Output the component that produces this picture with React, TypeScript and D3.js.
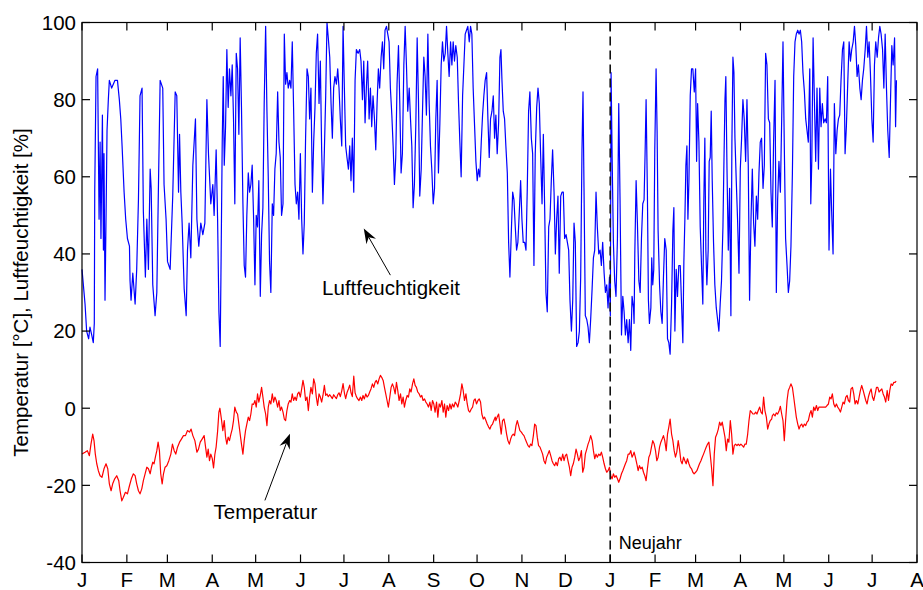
import React from 'react';
import * as d3 from 'd3';

// time axis: Jan 1 of year one to Aug 1 of year two, data given as day offsets
const startDate = new Date(Date.UTC(2005, 0, 1));
const endDate = new Date(Date.UTC(2006, 7, 1));
const newYearDate = new Date(Date.UTC(2006, 0, 1));
const monthLetters = ['J', 'F', 'M', 'A', 'M', 'J', 'J', 'A', 'S', 'O', 'N', 'D'];
const yTicks = [-40, -20, 0, 20, 40, 60, 80, 100];

// Luftfeuchtigkeit [%] as [day, value]
const humidityJanApr: [number, number][] = [
  [0,36],[2.1,27],[3.2,20],[4.6,18],[5.5,21],[6.7,19],[7.8,17],[8.5,22],[8.8,56],[9.7,86],[10.8,88],[11.8,49],[12.5,69],[13.1,44],[14.1,76],[14.8,41],[15.2,66],[15.9,28],[16.6,49],[17.3,72],[18.2,80],[18.9,85],[20.5,83],[22.8,85],[24.5,85],[25.8,80],[26.8,75],[27.7,68],[29.1,56],[30.2,49],[31.4,44],[32.8,42],[33.2,33],[33.9,28],[35.1,35],[36.7,27],[37.8,36],[39,54],[40.1,81],[41.5,83],[42.4,51],[43.8,34],[44.8,49],[45.9,36],[47.1,62],[47.8,57],[48.9,32],[50.5,24],[51.7,30],[52.8,57],[54,85],[55.8,83],[56.7,58],[58.1,49],[59.1,38],[60.9,36],[62.7,55],[64.4,82],[65.5,81],[66.7,56],[67.4,71],[68.3,56],[69.2,48],[70.6,31],[72,24],[72.9,41],[74,48],[75.2,39],[76.6,63],[78.4,75],[79.4,49],[80.7,42],[82.1,48],[83.5,45],[84.9,48],[86.3,80],[87.4,66],[89,53],[90.4,58],[91.3,50],[92.7,67],[93.7,49],[94.6,25],[95.5,16]
];
const humidityAprJul: [number, number][] = [
  [96,34],[96.9,69],[97.6,86],[98.3,63],[99.2,73],[100.1,93],[101,78],[101.9,88],[102.9,81],[103.8,89],[104.7,75],[105.6,53],[106.6,92],[107.5,88],[108.4,71],[109.3,96],[110.2,78],[111.2,53],[112.1,37],[113,34],[113.9,50],[114.9,61],[115.8,56],[116.7,58],[117.6,63],[118.6,49],[119.5,32],[120.4,50],[121.3,47],[122.2,59],[123.2,29],[124.1,45],[125,52],[125.9,79],[126.9,99],[127.8,77],[128.7,60],[129.6,38],[130.5,30],[131.5,53],[132.4,50],[133.3,62],[134.2,66],[135.2,82],[136.1,69],[137,65],[137.9,50],[138.9,53],[139.8,97],[140.7,84],[141.6,87],[142.5,83],[143.5,85],[144.4,83],[145.3,95],[146.2,78],[147.2,58],[148.1,53],[149,56],[149.9,49],[150.9,66],[151.8,49],[152.7,40],[153.6,48],[154.5,70],[155.5,88],[156.4,86],[157.3,75],[158.2,83],[159.2,56],[160.1,69],[161,78],[161.9,92],[162.8,97],[163.8,79],[164.7,90],[165.6,67],[166.5,53],[167.5,67],[168.4,81],[169.3,100],[170.2,96],[171.2,91],[172.1,79],[173,70],[173.9,83],[174.8,86],[175.8,84],[176.7,88],[177.6,83],[178.5,75],[179.5,68],[180.4,99],[181.3,83],[182.2,68],[183.1,65],[184.1,62],[185,68],[185.9,59],[186.8,70],[187.8,56],[188.7,85],[189.6,93]
];
const humidityJulOct: [number, number][] = [
  [190.8,92],[191.9,93],[192.8,90],[193.8,80],[194.7,90],[195.6,74],[196.5,83],[197.4,90],[198.4,75],[199.3,83],[200.2,73],[201.1,81],[202.1,75],[203,67],[203.9,79],[204.8,88],[205.7,83],[206.7,91],[207.6,95],[208.5,88],[209.4,98],[210.4,99],[211.3,97],[212.2,95],[213.1,83],[214.1,76],[215,68],[215.9,58],[216.8,65],[217.7,84],[218.7,94],[219.6,79],[220.5,61],[221.4,66],[222.4,89],[223.3,99],[224.2,89],[225.1,77],[226.1,83],[227,75],[227.9,68],[228.8,52],[229.7,58],[230.7,74],[231.6,96],[232.5,80],[233.4,55],[234.4,62],[235.3,77],[236.2,91],[237.1,86],[238,76],[239,97],[239.9,79],[240.8,68],[241.7,62],[242.7,53],[243.6,57],[244.5,75],[245.4,85],[246.3,61],[247.3,74],[248.2,89],[249.1,95],[250,90],[251,92],[251.9,99],[252.8,92],[253.7,86],[254.7,95],[255.6,89],[256.5,95],[257.4,90],[258.3,94],[259.3,91],[260.2,79],[261.1,69],[262,60],[263,81],[263.9,89],[264.8,97],[265.7,98],[266.6,99],[267.6,95],[268.5,99],[269.4,97],[270.3,83],[271.3,73],[272.2,64],[273.1,59],[274,62],[274.9,60],[275.9,69],[276.8,76],[277.7,81],[278.6,85],[279.6,87],[280.5,75],[281.4,65],[282.3,75],[283.3,77],[284.2,81],[285.1,70]
];
const humidityOctJan: [number, number][] = [
  [286,76],[286.9,66],[287.9,74],[288.8,91],[289.5,93],[290.2,85],[291.1,77],[292,75],[292.9,68],[293.9,61],[294.8,43],[295.7,34],[296.6,45],[297.6,56],[298.5,54],[299.4,47],[300.3,41],[301.2,43],[302.2,51],[303.1,59],[304,49],[304.9,43],[305.9,43],[306.8,41],[307.7,57],[308.6,77],[309.5,82],[310.5,70],[311.4,66],[312.3,37],[313.2,66],[314.2,78],[315.1,83],[316,79],[316.9,66],[317.9,53],[318.8,71],[319.7,52],[320.6,30],[321.5,25],[322.5,47],[323.4,49],[324.3,59],[325.2,67],[326.2,56],[327.1,40],[328,49],[328.9,55],[329.8,35],[330.8,55],[331.7,56],[332.6,56],[333.5,44],[334.5,45],[335.4,43],[336.3,41],[337.2,28],[338.2,20],[339.1,28],[340,48],[340.9,43],[341.8,16],[342.8,17],[343.7,20],[344.6,34],[345.5,67],[346.2,82],[346.9,57],[347.8,24],[348.8,23],[349.7,21],[350.6,17],[351.5,23],[352.5,31],[353.4,39],[354.3,41],[355.2,56],[356.1,47],[357.1,40],[358,41],[358.9,37],[359.8,43],[360.8,35],[361.7,30],[362.6,32],[363.5,26],[364.5,34],[365.1,24],[365.6,87],[366.3,66],[367.2,43],[368.1,33],[369,29],[370,44],[370.9,79],[371.8,54],[372.8,19],[373.7,29],[374.6,25],[375.5,19],[376.4,23],[377.4,17],[378.3,23],[379.2,15],[380.1,29],[381.1,26]
];
const humidityJanMay: [number, number][] = [
  [381.5,22],[382,40],[382.9,59],[383.8,48],[384.8,33],[385.7,30],[386.6,44],[387.5,53],[388.4,54],[389.1,66],[389.8,80],[390.7,56],[391.4,28],[392.1,22],[393.1,26],[393.7,39],[394.4,32],[395.1,36],[395.8,67],[396.7,88],[397.4,72],[398.1,46],[399.1,32],[400,25],[400.9,22],[401.8,34],[402.7,44],[403.7,41],[404.6,18],[405.5,17],[406.4,14],[407.4,27],[408.3,46],[409,52],[409.7,20],[410.6,36],[411.5,29],[412.4,37],[413.4,37],[414.3,27],[415.2,17],[415.9,38],[416.6,49],[417.3,63],[418,68],[418.7,49],[419.4,59],[420.3,81],[421.2,88],[422.1,88],[423.1,82],[424,88],[424.7,64],[425.4,79],[426.3,69],[427.2,47],[428.1,37],[429,27],[429.7,54],[430.4,70],[431.1,41],[431.8,32],[432.7,41],[433.4,64],[434.1,65],[434.8,77],[435.5,59],[436.4,43],[437.3,32],[438.3,26],[439.2,23],[440.1,20],[441,27],[441.9,33],[442.9,47],[443.6,64],[444.3,80],[444.9,86],[445.7,62],[446.6,41],[447.5,57],[448.4,24],[449.1,69],[449.8,91],[450.5,87],[451.2,70],[452.1,59],[453,49],[454,35],[454.9,62],[455.8,70],[456.7,80],[457.6,75],[458.6,64],[459.5,80],[460.4,63],[461.3,28],[462.3,49],[463.2,62],[464.1,48],[465,42],[466,55],[466.9,49],[467.8,61],[468.7,69],[469.6,70],[470.6,57],[471.5,63],[472.4,92],[473.3,89],[474.3,75],[475.2,74],[476.1,56]
];
const humidityMayAug: [number, number][] = [
  [477,47],[477.9,69],[478.9,85],[479.8,30],[480.7,54],[481.6,64],[482.6,56],[483.5,75],[484.4,95],[485.3,68],[486.2,44],[487.2,37],[488.1,30],[489,33],[489.9,42],[490.9,61],[491.8,86],[492.7,95],[493.6,97],[494.6,98],[495.5,97],[496.4,98],[497.3,95],[498.2,87],[499.2,82],[500.1,75],[501,72],[501.9,69],[502.9,88],[503.6,53],[504.3,64],[505.2,96],[506.1,80],[507,64],[507.9,83],[508.9,62],[509.8,83],[510.7,73],[511.6,79],[512.5,74],[513.5,75],[514.4,74],[515.3,86],[516.2,41],[517.2,62],[518.1,50],[519,40],[519.9,79],[520.9,66],[521.8,72],[522.7,75],[523.6,76],[524.5,85],[525.5,93],[526.4,95],[527.3,66],[528.2,73],[529.2,85],[530.1,95],[531,90],[531.9,93],[532.9,95],[533.8,99],[534.7,94],[535.6,86],[536.5,89],[537.5,83],[538.4,80],[539.3,85],[540.2,88],[541.2,93],[542.1,99],[543,91],[543.9,95],[544.8,87],[545.8,75],[546.7,69],[547.6,89],[548.5,95],[549.5,91],[550.4,96],[551.3,99],[552.2,97],[553.2,93],[554.1,83],[555,97],[555.9,83],[556.8,72],[557.8,65],[558.7,80],[559.6,94],[560.5,89],[561.5,96],[562.2,73],[562.8,85]
];

// Temperatur [°C] as [day, value]
const temperatureJanApr: [number, number][] = [
  [0,-11.9],[2.1,-11.4],[3.7,-11],[5.1,-12.3],[6.2,-9.3],[7.4,-6.7],[8.3,-8.4],[9.2,-11.9],[10.2,-14.4],[11.3,-16.2],[12.5,-17.5],[13.8,-17.9],[15.2,-15.7],[16.6,-14.4],[17.8,-15.7],[18.9,-19.6],[20.1,-21.4],[21.2,-19.6],[22.6,-18.3],[24,-17.5],[25.4,-18.8],[26.3,-21.4],[27.5,-24],[28.6,-23.1],[30,-21.8],[31.4,-22.2],[32.8,-20.1],[34.1,-18.3],[35.5,-17],[36.7,-17.5],[37.8,-19.6],[39,-21.4],[40.1,-22.2],[41.3,-20.9],[42.4,-18.8],[43.6,-17],[44.8,-15.3],[45.9,-15.7],[47.1,-17],[48,-15.3],[48.9,-14],[49.8,-14.4],[50.7,-12.7],[51.7,-11],[52.6,-8.8],[53.5,-11],[54.4,-17],[55.4,-19.6],[56.3,-17],[57.4,-15.3],[58.6,-14.9],[60,-13.6],[61.4,-11.9],[62.5,-9.3],[63.7,-11],[64.8,-11.9],[66,-10.1],[67.4,-8.8],[68.7,-8],[70.1,-7.1],[71.5,-7.1],[72.9,-5.8],[74.3,-6.2],[75.4,-5.4],[76.6,-7.1],[78,-8.4],[79.4,-11.4],[80.5,-10.6],[81.7,-8.8],[83,-8],[84.4,-7.1],[85.4,-10.1],[86.3,-12.7],[87.2,-10.6],[88.1,-13.6],[89,-11.9],[90,-13],[90.9,-15.5],[91.8,-12],[92.7,-10],[93.7,-6],[94.6,-1]
];
const temperatureAprJul: [number, number][] = [
  [95.3,0],[96.4,-3],[97.3,-5.8],[98.3,-3.2],[99.2,-7.5],[100.1,-9.3],[101,-7.5],[101.9,-8.4],[102.9,-6.7],[103.8,-5.4],[104.7,-3.2],[105.6,0.3],[106.6,-1],[107.5,-1.5],[108.4,-4.1],[109.3,-6.7],[110.2,-9.3],[111.2,-11.9],[112.1,-8.4],[113,-5.8],[113.9,-4.1],[114.9,-2.3],[115.8,-3.2],[116.7,-1.5],[117.6,1.1],[118.6,1],[119.5,2],[120.4,0.3],[121.3,3.7],[122.2,1.6],[123.2,3.3],[124.1,5.4],[125,2.9],[125.9,0.3],[126.9,-1.5],[127.8,-4.5],[128.7,0.3],[129.6,2],[130.5,1.1],[131.5,3.7],[132.4,1.6],[133.3,2.9],[134.2,2],[135.2,0.3],[136.1,2],[137,-0.6],[137.9,0.3],[138.9,-1],[139.8,-2.8],[140.7,-3.2],[141.6,-0.6],[142.5,1.1],[143.5,2],[144.4,1.6],[145.3,3.7],[146.2,2],[147.2,2.9],[148.1,2],[149,3.7],[149.9,4.2],[150.9,2.9],[151.8,5],[152.7,7.2],[153.6,5.4],[154.5,2],[155.5,2.9],[156.4,-0.6],[157.3,2.9],[158.2,5.4],[159.2,3.7],[160.1,7.6],[161,6.3],[161.9,2.9],[162.8,0.7],[163.8,3.7],[164.7,2.9],[165.6,1.6],[166.5,3.3],[167.5,5.9],[168.4,3.3],[169.3,3.7],[170.2,3],[171.2,3.5],[172.1,3],[173,2.5],[173.9,3.5],[174.8,3],[175.8,2.5],[176.7,3.5],[177.6,4],[178.5,3],[179.5,4.5],[180.4,6.4],[181.3,4],[182.2,2.5],[183.1,4],[184.1,5],[185,6],[185.9,4],[186.8,3],[187.8,8.3],[188.7,4],[189.6,3]
];
const temperatureJulOct: [number, number][] = [
  [190.5,2.4],[191.4,2],[192.4,2.9],[193.3,2],[194.2,3.3],[195.1,2.4],[196.1,3.7],[197,2.9],[197.9,3.3],[198.8,4.2],[199.7,5],[200.7,6.3],[201.6,5.4],[202.5,6.7],[203.4,7.2],[204.4,6.3],[205.3,7.6],[206.2,8.5],[207.1,8],[208.1,7.2],[209,5.4],[209.9,3.7],[210.8,2],[211.7,0.3],[212.7,2.9],[213.6,5.4],[214.5,6.3],[215.4,5.4],[216.4,3.7],[217.3,6.7],[218.2,4.6],[219.1,2],[220.1,3.7],[221,1.1],[221.9,2.9],[222.8,0.3],[223.7,2],[224.7,3.3],[225.6,2.9],[226.5,5],[227.4,4.2],[228.4,6.3],[229.3,7.6],[230.2,5.9],[231.1,5.4],[232,4.2],[233,3.7],[233.9,2.9],[234.8,3.3],[235.7,2],[236.7,2.4],[237.6,1.6],[238.5,1.1],[239.4,0.3],[240.4,1.6],[241.3,-0.6],[242.2,2],[243.1,1.1],[244,-1],[245,1.6],[245.9,-2.3],[246.8,1.1],[247.7,0.3],[248.7,2],[249.6,-1],[250.5,1.1],[251.4,-2.3],[252.3,0.7],[253.3,-0.6],[254.2,1.1],[255.1,-0.2],[256,1.1],[257,0.3],[257.9,1.6],[258.8,1.1],[259.7,0.3],[260.7,2],[261.6,3.7],[262.5,6.3],[263.4,4.6],[264.3,2],[265.3,3.7],[266.2,1.1],[267.1,-0.6],[268,-1],[269,-0.2],[269.9,0.3],[270.8,2],[271.7,2.4],[272.6,1.1],[273.6,2],[274.5,2.4],[275.4,1.6],[276.3,-1.5],[277.3,-2.8],[278.2,-2.3],[279.1,-3.2],[280,-4.1],[281,-4.9],[281.9,-5.4],[282.8,-4.5],[283.7,-4.1],[284.6,-3.2],[285.6,-2.3]
];
const temperatureOctJan: [number, number][] = [
  [286,-3.2],[286.9,-2.3],[287.9,-1.5],[288.8,-4.1],[289.7,-6.7],[290.6,-3.2],[291.6,-2.8],[292.5,-4.5],[293.4,-6.7],[294.3,-8.4],[295.3,-9.3],[296.2,-8],[297.1,-7.1],[298,-6.7],[298.9,-7.1],[299.9,-4.5],[300.8,-3.2],[301.7,-4.5],[302.6,-5.8],[303.6,-6.2],[304.5,-6.7],[305.4,-7.1],[306.3,-8],[307.2,-8.8],[308.2,-9.7],[309.1,-10.1],[310,-9.3],[310.9,-9.7],[311.9,-7.1],[312.8,-4.1],[313.7,-4.5],[314.6,-7.5],[315.5,-9.7],[316.5,-10.1],[317.4,-11],[318.3,-11.9],[319.2,-13.6],[320.2,-14.4],[321.1,-12.7],[322,-11.9],[322.9,-11],[323.9,-12.3],[324.8,-13.6],[325.7,-14.4],[326.6,-14.9],[327.5,-14],[328.5,-14.9],[329.4,-13.1],[330.3,-12.7],[331.2,-13.6],[332.2,-11.9],[333.1,-13.6],[334,-12.3],[334.9,-11.9],[335.8,-13.6],[336.8,-15.3],[337.7,-17.5],[338.6,-15.3],[339.5,-14.4],[340.5,-12.7],[341.4,-10.6],[342.3,-11.9],[343.2,-13.6],[344.2,-12.7],[345.1,-11],[346,-16.6],[346.9,-15.3],[347.8,-11.9],[348.8,-10.6],[349.7,-9.3],[350.6,-8.4],[351.5,-7.1],[352.5,-8.4],[353.4,-11],[354.3,-13.1],[355.2,-11.9],[356.1,-12.7],[357.1,-11.9],[358,-12.3],[358.9,-11.4],[359.8,-12.7],[360.8,-14.4],[361.7,-15.7],[362.6,-16.6],[363.5,-16.2],[364.5,-15.3],[365.4,-17.5],[366.3,-18.3],[367.2,-17],[368.1,-17.9],[369.1,-17.5],[370,-18.3],[370.9,-19.2],[371.8,-18.3],[372.8,-17],[373.7,-16.2],[374.6,-15.3],[375.5,-14.4],[376.4,-13.6],[377.4,-11.9],[378.3,-11.9],[379.2,-11],[380.1,-12.7],[381.1,-11.9]
];
const temperatureJanMay: [number, number][] = [
  [381.5,-11.4],[382.4,-12.7],[383.4,-14.4],[384.3,-16.2],[385.2,-14.9],[386.1,-15.7],[387.1,-15.3],[388,-16.6],[388.9,-17.5],[389.8,-18.8],[390.7,-15.7],[391.7,-12.7],[392.6,-11.9],[393.5,-10.1],[394.4,-8.4],[395.4,-9.3],[396.3,-11],[397.2,-13.6],[398.1,-12.7],[399.1,-10.1],[400,-8.8],[400.9,-8],[401.8,-7.1],[402.7,-8.4],[403.7,-11],[404.6,-6.7],[405.5,-4.9],[406.4,-2.8],[407.4,-6.7],[408.3,-8.4],[409.2,-11],[410.1,-12.7],[411,-11.4],[412,-8.4],[412.9,-10.6],[413.8,-13.6],[414.7,-14.4],[415.7,-12.7],[416.6,-13.6],[417.5,-14.4],[418.4,-13.1],[419.4,-14.4],[420.3,-15.3],[421.2,-15.7],[422.1,-16.6],[423,-17],[424,-16.6],[424.9,-16.2],[425.8,-15.3],[426.7,-14.4],[427.7,-13.6],[428.6,-12.7],[429.5,-11.9],[430.4,-11],[431.3,-10.1],[432.3,-9.3],[433.2,-8.8],[434.1,-11.9],[435,-15.3],[436,-20.1],[436.9,-11.9],[437.8,-7.5],[438.7,-6.7],[439.7,-5.4],[440.6,-3.6],[441.5,-4.5],[442.4,-3.6],[443.3,-5.4],[444.3,-7.5],[445.2,-11],[446.1,-8],[447,-8.8],[448,-3.2],[448.9,-6.7],[449.8,-11.9],[450.7,-9.7],[451.6,-9.3],[452.6,-9.7],[453.5,-9.3],[454.4,-9.7],[455.3,-9.3],[456.3,-9.7],[457.2,-10.1],[458.1,-9.3],[459,-9.3],[460,-6.7],[460.9,-3.2],[461.8,-0.6],[462.7,-1],[463.6,-1.5],[464.6,-1.5],[465.5,-1],[466.4,-1.5],[467.3,-0.6],[468.3,0.3],[469.2,-1],[470.1,-1.5],[471,2.9],[471.9,-0.6],[472.9,-2.3],[473.8,-5.4],[474.7,-4.1],[475.6,-3.2],[476.6,-2.8]
];
const temperatureMayAug: [number, number][] = [
  [477,-2],[477.9,-1.5],[478.9,-2],[479.8,-1.2],[480.7,-1.5],[481.6,-0.8],[482.6,0.5],[483.5,-1.5],[484.4,-3.2],[485.3,-8.4],[486.2,-3.2],[487.2,2],[488.1,4.6],[489,5.4],[489.9,6.3],[490.9,5.4],[491.8,2.9],[492.7,0.3],[493.6,-2.3],[494.6,-4.1],[495.5,-5.4],[496.4,-4.5],[497.3,-4.1],[498.2,-4.9],[499.2,-4.1],[500.1,-4.5],[501,-3.6],[501.9,-3.2],[502.9,-1.5],[503.8,-0.6],[504.7,-2.3],[505.6,0.3],[506.5,-0.6],[507.5,0.7],[508.4,-0.6],[509.3,0.3],[510.2,0.3],[511.2,0.3],[512.1,0.3],[513,0.3],[513.9,0.3],[514.8,0.7],[515.8,1.1],[516.7,2.9],[517.6,2.4],[518.5,3.7],[519.5,1.1],[520.4,0.3],[521.3,1.1],[522.2,0.3],[523.1,-0.2],[524.1,-1],[525,0.3],[525.9,1.6],[526.8,1.1],[527.8,2.9],[528.7,3.3],[529.6,2],[530.5,1.6],[531.4,5],[532.4,5.4],[533.3,3.7],[534.2,1.1],[535.1,2],[536.1,1.1],[537,2.9],[537.9,4.6],[538.8,5.9],[539.8,4.6],[540.7,3.3],[541.6,2],[542.5,1.1],[543.4,2.9],[544.4,4.2],[545.3,5],[546.2,2.9],[547.1,2],[548.1,3.7],[549,5.4],[549.9,5.4],[550.8,4.2],[551.7,4.6],[552.7,5],[553.6,3.7],[554.5,2.9],[555.4,1.6],[556.4,4.6],[557.3,2],[558.2,4.6],[559.1,6.3],[560,5.9],[561,6.7],[561.9,6.7],[562.6,7]
];

const humidity = [...humidityJanApr, ...humidityAprJul, ...humidityJulOct, ...humidityOctJan, ...humidityJanMay, ...humidityMayAug];
const temperature = [...temperatureJanApr, ...temperatureAprJul, ...temperatureJulOct, ...temperatureOctJan, ...temperatureJanMay, ...temperatureMayAug];

// annotations in data units: text anchor, arrow tail, arrow tip
const humidityNote = { label: 'Luftfeuchtigkeit', text: [165.9, 29.3], tail: [213.1, 34.5], tip: [194.7, 46.6] };
const temperatureNote = { label: 'Temperatur', text: [90.9, -28.6], tail: [126.4, -23.9], tip: [143.7, -6.6] };
const newYearNote = { label: 'Neujahr', text: [370.9, -36.6] };

const width = 923;
const height = 590;
const font = '"Liberation Sans", Arial, Helvetica, sans-serif';

function dayToDate(d: number) {
  return new Date(startDate.getTime() + d * 864e5);
}

function Arrow({ from, to }: { from: [number, number]; to: [number, number] }) {
  const dx = to[0] - from[0];
  const dy = to[1] - from[1];
  const len = Math.sqrt(dx * dx + dy * dy);
  const ux = dx / len;
  const uy = dy / len;
  const nx = -uy;
  const ny = ux;
  const L = 15;
  const w = 5.5;
  const notch = 10;
  const head = [
    [to[0], to[1]],
    [to[0] - L * ux + w * nx, to[1] - L * uy + w * ny],
    [to[0] - notch * ux, to[1] - notch * uy],
    [to[0] - L * ux - w * nx, to[1] - L * uy - w * ny],
  ];
  return (
    <g>
      <line x1={from[0]} y1={from[1]} x2={to[0] - notch * ux} y2={to[1] - notch * uy} stroke="#000" strokeWidth={1} />
      <path d={'M' + head.map(p => p.join(',')).join('L') + 'Z'} fill="#000" />
    </g>
  );
}

export default function App() {
  const x = d3.scaleUtc().domain([startDate, endDate]).range([82, 917]);
  const y = d3.scaleLinear().domain([-40, 100]).range([562.5, 22.5]);
  const top = y(100);
  const bottom = y(-40);
  const left = x(startDate);
  const right = x(endDate);

  const line = d3
    .line<[number, number]>()
    .x(d => x(dayToDate(d[0])))
    .y(d => y(d[1]));

  const months = d3.utcMonth.range(startDate, d3.utcDay.offset(endDate, 1));
  const pt = (p: number[]): [number, number] => [x(dayToDate(p[0])), y(p[1])];

  const tick = 8;

  return (
    <div style={{ position: 'absolute', left: 0, top: 0 }}>
      <svg width={width} height={height} style={{ display: 'block', background: '#fff' }}>
        <g fontFamily={font} fontSize={20.5} fill="#000">
          <path d={line(humidity) || ''} fill="none" stroke="#0000ff" strokeWidth={1.2} strokeLinejoin="round" />
          <path d={line(temperature) || ''} fill="none" stroke="#ff0000" strokeWidth={1.2} strokeLinejoin="round" />

          <line x1={x(newYearDate)} x2={x(newYearDate)} y1={top} y2={bottom} stroke="#111" strokeWidth={1.6} strokeDasharray="9,5" />

          {/* box and ticks */}
          <rect x={left} y={top} width={right - left} height={bottom - top} fill="none" stroke="#000" strokeWidth={1.2} />
          {yTicks.map(v => (
            <g key={'y' + v}>
              <line x1={left} x2={left + tick} y1={y(v)} y2={y(v)} stroke="#000" strokeWidth={1.2} />
              <line x1={right} x2={right - tick} y1={y(v)} y2={y(v)} stroke="#000" strokeWidth={1.2} />
              <text x={left - 6} y={y(v) + 7.3} textAnchor="end">{v}</text>
            </g>
          ))}
          {months.map((m, i) => (
            <g key={'m' + i}>
              <line x1={x(m)} x2={x(m)} y1={bottom} y2={bottom - tick} stroke="#000" strokeWidth={1.2} />
              <line x1={x(m)} x2={x(m)} y1={top} y2={top + tick} stroke="#000" strokeWidth={1.2} />
              <text x={x(m)} y={bottom + 24} textAnchor="middle">{monthLetters[m.getUTCMonth()]}</text>
            </g>
          ))}

          <text transform={`translate(28,${(top + bottom) / 2}) rotate(-90)`} textAnchor="middle">
            Temperatur [°C], Luftfeuchtigkeit [%]
          </text>

          {/* annotations */}
          <text x={pt(humidityNote.text)[0]} y={pt(humidityNote.text)[1]}>{humidityNote.label}</text>
          <Arrow from={pt(humidityNote.tail)} to={pt(humidityNote.tip)} />
          <text x={pt(temperatureNote.text)[0]} y={pt(temperatureNote.text)[1]}>{temperatureNote.label}</text>
          <Arrow from={pt(temperatureNote.tail)} to={pt(temperatureNote.tip)} />
          <text x={pt(newYearNote.text)[0]} y={pt(newYearNote.text)[1]} fontSize={18}>{newYearNote.label}</text>
        </g>
      </svg>
    </div>
  );
}
